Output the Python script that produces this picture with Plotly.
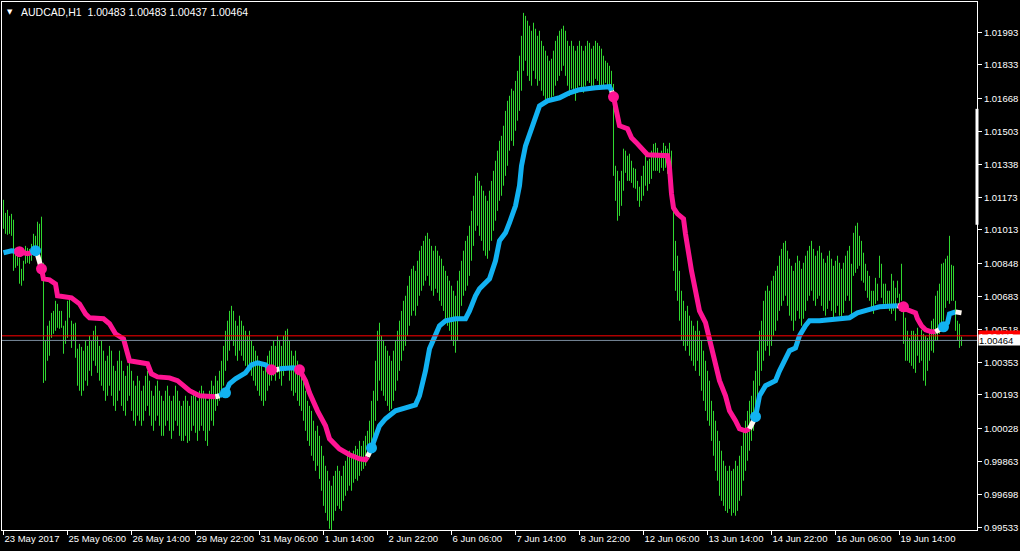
import plotly.graph_objects as go

# ---------------- data ----------------
SYMBOL = "AUDCAD,H1"
LAST_OHLC = [1.00483, 1.00483, 1.00437, 1.00464]
ASK = 1.00487
BID = 1.00464

X_TICK_IDX = [0, 32, 64, 96, 128, 160, 192, 224, 256, 288, 320, 352, 384, 416, 448]
X_TICK_TEXT = ["23 May 2017", "25 May 06:00", "26 May 14:00", "29 May 22:00", "31 May 06:00",
               "1 Jun 14:00", "2 Jun 22:00", "6 Jun 06:00", "7 Jun 14:00", "8 Jun 22:00",
               "12 Jun 06:00", "13 Jun 14:00", "14 Jun 22:00", "16 Jun 06:00", "19 Jun 14:00"]
Y_TICKS = [1.01993, 1.01833, 1.01668, 1.01503, 1.01338, 1.01173, 1.01013, 1.00848,
           1.00683, 1.00518, 1.00353, 1.00193, 1.00028, 0.99863, 0.99698, 0.99533]
Y_TICK_TEXT = ["1.01993", "1.01833", "1.01668", "1.01503", "1.01338", "1.01173", "1.01013", "1.00848",
               "1.00683", "1.00518", "1.00353", "1.00193", "1.00028", "0.99863", "0.99698", "0.99533"]

HIGH = [
    1.01163, 1.01098, 1.01113, 1.01083, 1.01093, 1.01064, 1.00924, 1.00924, 1.00875, 1.00820,
    1.00860, 1.00934, 1.00924, 1.00919, 1.00944, 1.00994, 1.00984, 1.01054, 1.01044, 1.01079,
    1.00850, 1.00462, 1.00537, 1.00562, 1.00601, 1.00611, 1.00661, 1.00646, 1.00611, 1.00611,
    1.00537, 1.00562, 1.00661, 1.00671, 1.00562, 1.00547, 1.00552, 1.00423, 1.00447, 1.00432,
    1.00413, 1.00462, 1.00437, 1.00487, 1.00462, 1.00512, 1.00537, 1.00487, 1.00437, 1.00462,
    1.00413, 1.00363, 1.00388, 1.00437, 1.00413, 1.00338, 1.00313, 1.00363, 1.00413, 1.00363,
    1.00313, 1.00288, 1.00338, 1.00363, 1.00313, 1.00264, 1.00239, 1.00288, 1.00264, 1.00214,
    1.00239, 1.00288, 1.00313, 1.00264, 1.00214, 1.00189, 1.00239, 1.00264, 1.00214, 1.00189,
    1.00164, 1.00214, 1.00239, 1.00189, 1.00164, 1.00189, 1.00239, 1.00214, 1.00164, 1.00139,
    1.00164, 1.00189, 1.00164, 1.00139, 1.00189, 1.00214, 1.00189, 1.00164, 1.00214, 1.00239,
    1.00214, 1.00189, 1.00164, 1.00214, 1.00264, 1.00239, 1.00288, 1.00264, 1.00313, 1.00363,
    1.00437, 1.00512, 1.00562, 1.00611, 1.00636, 1.00611, 1.00562, 1.00537, 1.00587, 1.00562,
    1.00537, 1.00512, 1.00487, 1.00512, 1.00462, 1.00437, 1.00413, 1.00388, 1.00363, 1.00338,
    1.00313, 1.00338, 1.00388, 1.00413, 1.00437, 1.00462, 1.00437, 1.00487, 1.00462, 1.00437,
    1.00487, 1.00512, 1.00522, 1.00462, 1.00413, 1.00388, 1.00413, 1.00363, 1.00338, 1.00313,
    1.00264, 1.00214, 1.00164, 1.00139, 1.00114, 1.00065, 1.00015, 1.00040, 0.99990, 0.99940,
    0.99891, 0.99841, 0.99816, 0.99767, 0.99742, 0.99791, 0.99816, 0.99841, 0.99816, 0.99791,
    0.99841, 0.99866, 0.99891, 0.99916, 0.99891, 0.99916, 0.99940, 0.99925, 0.99965, 0.99940,
    0.99965, 0.99990, 1.00015, 1.00065, 1.00164, 1.00214, 1.00363, 1.00512, 1.00552, 1.00487,
    1.00462, 1.00437, 1.00413, 1.00388, 1.00363, 1.00413, 1.00462, 1.00512, 1.00562, 1.00611,
    1.00661, 1.00686, 1.00736, 1.00785, 1.00820, 1.00835, 1.00810, 1.00860, 1.00910, 1.00934,
    1.00959, 1.00984, 1.00999, 1.00969, 1.00934, 1.00910, 1.00934, 1.00910, 1.00885, 1.00870,
    1.00835, 1.00810, 1.00785, 1.00761, 1.00736, 1.00711, 1.00686, 1.00761, 1.00810, 1.00860,
    1.00910, 1.00959, 1.00984, 1.01034, 1.01108, 1.01183, 1.01282, 1.01297, 1.01257, 1.01233,
    1.01208, 1.01183, 1.01158, 1.01208, 1.01257, 1.01307, 1.01357, 1.01407, 1.01456, 1.01481,
    1.01531, 1.01605, 1.01655, 1.01680, 1.01715, 1.01705, 1.01754, 1.01804, 1.01879, 1.01978,
    1.02092, 1.02077, 1.02053, 1.02028, 1.02003, 1.02043, 1.02013, 1.01978, 1.02003, 1.01953,
    1.01928, 1.01904, 1.01879, 1.01854, 1.01864, 1.01904, 1.01953, 1.01978, 1.02003, 1.02013,
    1.02028, 1.02003, 1.01953, 1.01928, 1.01953, 1.01928, 1.01904, 1.01928, 1.01953, 1.01928,
    1.01904, 1.01928, 1.01953, 1.01943, 1.01914, 1.01928, 1.01953, 1.01943, 1.01928, 1.01914,
    1.01879, 1.01854, 1.01844, 1.01829, 1.01804, 1.01739, 1.01332, 1.01307, 1.01257, 1.01307,
    1.01417, 1.01407, 1.01382, 1.01392, 1.01357, 1.01322, 1.01317, 1.01257, 1.01228, 1.01282,
    1.01332, 1.01382, 1.01357, 1.01367, 1.01407, 1.01441, 1.01446, 1.01421, 1.01372, 1.01407,
    1.01446, 1.01431, 1.01417, 1.01446, 1.01407, 1.01133, 1.00959, 1.00885, 1.00810, 1.00711,
    1.00661, 1.00611, 1.00636, 1.00587, 1.00562, 1.00537, 1.00512, 1.00562, 1.00512, 1.00462,
    1.00413, 1.00363, 1.00313, 1.00264, 1.00164, 1.00114, 1.00065, 1.00015, 0.99965, 0.99916,
    0.99866, 0.99841, 0.99816, 0.99841, 0.99816, 0.99826, 0.99866, 0.99841, 0.99891, 0.99940,
    1.00015, 1.00065, 1.00114, 1.00164, 1.00189, 1.00264, 1.00313, 1.00413, 1.00512, 1.00562,
    1.00661, 1.00711, 1.00736, 1.00711, 1.00761, 1.00785, 1.00810, 1.00835, 1.00885, 1.00919,
    1.00949, 1.00959, 1.00910, 1.00870, 1.00835, 1.00810, 1.00850, 1.00885, 1.00860, 1.00820,
    1.00850, 1.00885, 1.00910, 1.00934, 1.00959, 1.00919, 1.00885, 1.00910, 1.00934, 1.00900,
    1.00870, 1.00850, 1.00885, 1.00910, 1.00870, 1.00835, 1.00860, 1.00885, 1.00850, 1.00820,
    1.00850, 1.00885, 1.00910, 1.00934, 1.00845, 1.00999, 1.01034, 1.01049, 1.00984, 1.00959,
    1.00900, 1.00845, 1.00810, 1.00785, 1.00711, 1.00711, 1.00775, 1.00746, 1.00885, 1.00845,
    1.00746, 1.00746, 1.00711, 1.00711, 1.00795, 1.00761, 1.00726, 1.00761, 1.00696, 1.00845,
    1.00646, 1.00577, 1.00512, 1.00477, 1.00512, 1.00512, 1.00497, 1.00527, 1.00462, 1.00517,
    1.00497, 1.00487, 1.00477, 1.00512, 1.00562, 1.00572, 1.00686, 1.00711, 1.00746, 1.00845,
    1.00850, 1.00870, 1.00885, 1.00984, 1.00840, 1.00835, 1.00661, 1.00562, 1.00547, 1.00483,
]

LOW = [
    1.01019, 1.00994, 1.00989, 1.00994, 1.00984, 1.00810, 1.00825, 1.00835, 1.00746, 1.00736,
    1.00761, 1.00845, 1.00850, 1.00845, 1.00860, 1.00919, 1.00910, 1.00934, 1.00924, 1.00850,
    1.00253, 1.00264, 1.00363, 1.00388, 1.00477, 1.00497, 1.00512, 1.00527, 1.00522, 1.00527,
    1.00398, 1.00447, 1.00477, 1.00577, 1.00427, 1.00462, 1.00378, 1.00239, 1.00214, 1.00189,
    1.00214, 1.00264, 1.00239, 1.00313, 1.00288, 1.00363, 1.00338, 1.00303, 1.00264, 1.00239,
    1.00214, 1.00164, 1.00189, 1.00239, 1.00189, 1.00139, 1.00114, 1.00164, 1.00214, 1.00139,
    1.00114, 1.00090, 1.00164, 1.00189, 1.00114, 1.00065, 1.00040, 1.00090, 1.00065, 1.00040,
    1.00065, 1.00114, 1.00139, 1.00090, 1.00040, 1.00015, 1.00065, 1.00090, 1.00040, 0.99990,
    0.99990, 1.00040, 1.00065, 1.00015, 0.99975, 1.00015, 1.00065, 1.00040, 0.99990, 0.99965,
    0.99965, 0.99990, 0.99955, 0.99965, 1.00015, 1.00040, 1.00005, 0.99965, 1.00015, 1.00040,
    1.00015, 0.99965, 0.99940, 1.00015, 1.00065, 1.00040, 1.00114, 1.00139, 1.00164, 1.00189,
    1.00239, 1.00313, 1.00363, 1.00413, 1.00462, 1.00437, 1.00388, 1.00363, 1.00413, 1.00388,
    1.00363, 1.00338, 1.00313, 1.00338, 1.00288, 1.00264, 1.00239, 1.00214, 1.00189, 1.00164,
    1.00139, 1.00164, 1.00214, 1.00239, 1.00264, 1.00288, 1.00264, 1.00303, 1.00273, 1.00239,
    1.00288, 1.00313, 1.00338, 1.00264, 1.00214, 1.00189, 1.00204, 1.00164, 1.00139, 1.00114,
    1.00065, 1.00015, 0.99965, 0.99940, 0.99891, 0.99866, 0.99816, 0.99841, 0.99776, 0.99717,
    0.99642, 0.99607, 0.99568, 0.99528, 0.99518, 0.99568, 0.99617, 0.99642, 0.99627, 0.99617,
    0.99667, 0.99692, 0.99717, 0.99742, 0.99717, 0.99757, 0.99776, 0.99767, 0.99791, 0.99816,
    0.99826, 0.99841, 0.99866, 0.99891, 0.99916, 0.99965, 1.00065, 1.00164, 1.00264, 1.00214,
    1.00189, 1.00164, 1.00139, 1.00114, 1.00124, 1.00164, 1.00214, 1.00264, 1.00313, 1.00363,
    1.00413, 1.00437, 1.00487, 1.00537, 1.00587, 1.00611, 1.00587, 1.00636, 1.00686, 1.00711,
    1.00736, 1.00761, 1.00785, 1.00736, 1.00711, 1.00686, 1.00721, 1.00701, 1.00661, 1.00636,
    1.00611, 1.00562, 1.00537, 1.00512, 1.00462, 1.00437, 1.00403, 1.00462, 1.00562, 1.00636,
    1.00686, 1.00711, 1.00736, 1.00785, 1.00860, 1.00934, 1.01009, 1.01034, 1.00984, 1.00959,
    1.00910, 1.00885, 1.00870, 1.00910, 1.00959, 1.01009, 1.01059, 1.01108, 1.01158, 1.01183,
    1.01233, 1.01282, 1.01332, 1.01407, 1.01456, 1.01431, 1.01506, 1.01556, 1.01605, 1.01705,
    1.01804, 1.01854, 1.01779, 1.01754, 1.01730, 1.01804, 1.01764, 1.01730, 1.01754, 1.01705,
    1.01680, 1.01655, 1.01645, 1.01655, 1.01665, 1.01680, 1.01730, 1.01754, 1.01779, 1.01804,
    1.01829, 1.01779, 1.01730, 1.01680, 1.01715, 1.01705, 1.01655, 1.01695, 1.01730, 1.01705,
    1.01695, 1.01730, 1.01754, 1.01744, 1.01715, 1.01730, 1.01764, 1.01754, 1.01730, 1.01715,
    1.01730, 1.01744, 1.01730, 1.01705, 1.01680, 1.01282, 1.01158, 1.01059, 1.01083, 1.01133,
    1.01208, 1.01297, 1.01257, 1.01257, 1.01247, 1.01223, 1.01218, 1.01158, 1.01128, 1.01158,
    1.01183, 1.01233, 1.01208, 1.01242, 1.01267, 1.01307, 1.01307, 1.01307, 1.01297, 1.01322,
    1.01307, 1.01322, 1.01292, 1.01307, 1.01133, 1.00810, 1.00711, 1.00661, 1.00562, 1.00462,
    1.00437, 1.00413, 1.00437, 1.00388, 1.00363, 1.00338, 1.00313, 1.00363, 1.00288, 1.00214,
    1.00164, 1.00114, 1.00065, 1.00040, 0.99965, 0.99891, 0.99816, 0.99767, 0.99692, 0.99667,
    0.99642, 0.99617, 0.99607, 0.99627, 0.99593, 0.99607, 0.99593, 0.99617, 0.99667, 0.99692,
    0.99767, 0.99816, 0.99866, 0.99916, 0.99965, 1.00015, 1.00065, 1.00164, 1.00239, 1.00313,
    1.00363, 1.00413, 1.00437, 1.00388, 1.00437, 1.00487, 1.00512, 1.00562, 1.00611, 1.00636,
    1.00661, 1.00686, 1.00636, 1.00587, 1.00562, 1.00512, 1.00562, 1.00611, 1.00572, 1.00537,
    1.00572, 1.00611, 1.00661, 1.00686, 1.00711, 1.00661, 1.00636, 1.00671, 1.00686, 1.00636,
    1.00611, 1.00587, 1.00621, 1.00661, 1.00611, 1.00572, 1.00601, 1.00636, 1.00587, 1.00562,
    1.00601, 1.00661, 1.00686, 1.00661, 1.00577, 1.00785, 1.00800, 1.00820, 1.00835, 1.00761,
    1.00751, 1.00711, 1.00676, 1.00661, 1.00626, 1.00596, 1.00646, 1.00661, 1.00775, 1.00676,
    1.00646, 1.00646, 1.00626, 1.00611, 1.00596, 1.00611, 1.00562, 1.00676, 1.00611, 1.00661,
    1.00447, 1.00363, 1.00363, 1.00353, 1.00338, 1.00323, 1.00303, 1.00388, 1.00353, 1.00363,
    1.00264, 1.00239, 1.00313, 1.00363, 1.00413, 1.00403, 1.00462, 1.00462, 1.00497, 1.00512,
    1.00562, 1.00626, 1.00661, 1.00646, 1.00661, 1.00661, 1.00512, 1.00462, 1.00427, 1.00437,
]

# moving-average line: bar index, value, colour state (b = up, m = down, w = neutral)
MA_IDX = [0, 4, 8, 12, 14, 16, 17, 18, 19, 20, 23, 26, 27, 34, 38, 41, 43, 50, 53, 56,
          60, 62, 63, 72, 74, 77, 83, 87, 93, 98, 106, 108, 111, 113, 116, 121, 124, 127, 131, 134,
          136, 138, 145, 147, 148, 151, 153, 157, 161, 163, 168, 173, 178, 181, 182, 184, 186, 188, 191, 196,
          201, 206, 208, 211, 213, 216, 218, 221, 226, 231, 233, 236, 238, 243, 246, 248, 251, 253, 256, 258,
          259, 261, 263, 266, 268, 272, 278, 283, 288, 296, 303, 304, 305, 306, 307, 308, 312, 314, 317, 320,
          322, 332, 333, 334, 335, 337, 340, 341, 342, 343, 344, 346, 348, 351, 353, 356, 358, 361, 363, 366,
          368, 371, 373, 376, 378, 381, 386, 388, 391, 393, 396, 398, 401, 403, 408, 413, 418, 423, 427, 432,
          434, 438, 443, 447, 450, 452, 456, 457, 459, 461, 464, 466, 468, 470, 472, 473, 475, 476, 479]
MA_VAL = [1.00900, 1.00910, 1.00905, 1.00895, 1.00900, 1.00910, 1.00890, 1.00850, 1.00820, 1.00770,
          1.00765, 1.00745, 1.00686, 1.00676, 1.00646, 1.00596, 1.00577, 1.00572, 1.00547, 1.00497,
          1.00472, 1.00398, 1.00363, 1.00348, 1.00298, 1.00283, 1.00278, 1.00264, 1.00214, 1.00189,
          1.00184, 1.00189, 1.00204, 1.00249, 1.00273, 1.00303, 1.00343, 1.00353, 1.00343, 1.00318,
          1.00318, 1.00323, 1.00328, 1.00323, 1.00318, 1.00264, 1.00204, 1.00114, 1.00040, 0.99975,
          0.99925, 0.99896, 0.99876, 0.99871, 0.99886, 0.99930, 0.99990, 1.00040, 1.00075, 1.00114,
          1.00129, 1.00144, 1.00189, 1.00313, 1.00423, 1.00487, 1.00537, 1.00562, 1.00572, 1.00572,
          1.00611, 1.00686, 1.00721, 1.00770, 1.00860, 1.00959, 1.00999, 1.01049, 1.01133, 1.01233,
          1.01332, 1.01431, 1.01491, 1.01580, 1.01630, 1.01655, 1.01670, 1.01695, 1.01710, 1.01720,
          1.01725, 1.01705, 1.01675, 1.01620, 1.01556, 1.01531, 1.01516, 1.01471, 1.01441, 1.01407,
          1.01387, 1.01382, 1.01322, 1.01193, 1.01123, 1.01093, 1.01069, 1.00994, 1.00924, 1.00860,
          1.00810, 1.00711, 1.00611, 1.00552, 1.00462, 1.00338, 1.00264, 1.00189, 1.00114, 1.00065,
          1.00025, 1.00015, 1.00025, 1.00085, 1.00189, 1.00239, 1.00264, 1.00313, 1.00373, 1.00413,
          1.00427, 1.00487, 1.00537, 1.00562, 1.00562, 1.00567, 1.00577, 1.00577, 1.00601, 1.00611,
          1.00621, 1.00631, 1.00631, 1.00636, 1.00631, 1.00616, 1.00601, 1.00572, 1.00537, 1.00517,
          1.00507, 1.00507, 1.00517, 1.00532, 1.00552, 1.00596, 1.00606, 1.00606, 1.00601]
MA_COL = (["b", "b", "m", "m", "w", "b", "w", "w"] + ["m"] * 22 + ["w"] + ["b"] * 8 +
          ["m", "w", "b", "b", "w"] + ["m"] * 10 + ["w"] + ["b"] * 36 + ["w"] + ["m"] * 30 +
          ["w"] + ["b"] * 20 + ["w"] + ["m"] * 7 + ["w", "w", "b", "b", "b", "b", "w", "w"])

DOT_IDX = [8, 16, 19, 111, 134, 148, 184, 305, 376, 450, 470]
DOT_VAL = [1.00905, 1.00910, 1.00820, 1.00204, 1.00318, 1.00318, 0.99930, 1.01675, 1.00085, 1.00631, 1.00532]
DOT_COL = ["m", "b", "m", "b", "m", "m", "b", "m", "b", "m", "b"]

# ---------------- styles ----------------
BG = "#000000"
BAR_COLOR = "#30D830"
COLORS = {"b": "#12B2F2", "m": "#FF1493", "w": "#FFF8F0"}
FONT = "Liberation Sans, Arial, sans-serif"
FS = 9.5

fig = go.Figure()

# price bars (high-low lines)
bx, by = [], []
for i, (h, l) in enumerate(zip(HIGH, LOW)):
    bx += [i, i, None]
    by += [l, h, None]
fig.add_trace(go.Scatter(x=bx, y=by, mode="lines", line=dict(color=BAR_COLOR, width=1),
                         hoverinfo="skip", showlegend=False))

# moving average split into colour runs (segment colour = colour of its start point)
runs = []
cur = None
for k in range(len(MA_IDX) - 1):
    c = MA_COL[k]
    if cur is None or cur["c"] != c:
        cur = {"c": c, "x": [MA_IDX[k]], "y": [MA_VAL[k]]}
        runs.append(cur)
    cur["x"].append(MA_IDX[k + 1])
    cur["y"].append(MA_VAL[k + 1])
for r in runs:
    fig.add_trace(go.Scatter(x=r["x"], y=r["y"], mode="lines",
                             line=dict(color=COLORS[r["c"]], width=5),
                             hoverinfo="skip", showlegend=False))

fig.add_trace(go.Scatter(x=DOT_IDX, y=DOT_VAL, mode="markers",
                         marker=dict(size=11, color=[COLORS[c] for c in DOT_COL], line=dict(width=0)),
                         hoverinfo="skip", showlegend=False))

fig.update_layout(
    width=1020, height=551, autosize=False,
    paper_bgcolor=BG, plot_bgcolor=BG,
    margin=dict(l=2, r=43, t=2, b=21, autoexpand=False),
    showlegend=False,
    font=dict(family=FONT, size=FS, color="#FFFFFF"),
    xaxis=dict(range=[-0.75, 486.75], tickvals=X_TICK_IDX, ticktext=X_TICK_TEXT,
               ticks="outside", ticklen=4, tickcolor="#FFFFFF", ticklabelposition="outside right",
               tickangle=0, automargin=False,
               showline=True, linecolor="#FFFFFF", linewidth=1, mirror=True,
               showgrid=False, zeroline=False, fixedrange=True,
               tickfont=dict(family=FONT, size=FS, color="#FFFFFF")),
    yaxis=dict(range=[0.99522, 1.02146], tickvals=Y_TICKS, ticktext=Y_TICK_TEXT, side="right",
               ticks="outside", ticklen=4, tickcolor="#FFFFFF", automargin=False,
               showline=True, linecolor="#FFFFFF", linewidth=1, mirror=True,
               showgrid=False, zeroline=False, fixedrange=True,
               tickfont=dict(family=FONT, size=FS, color="#FFFFFF")),
    shapes=[
        dict(type="line", xref="paper", x0=0, x1=1, yref="y", y0=ASK, y1=ASK,
             line=dict(color="#FF0000", width=1), layer="above"),
        dict(type="line", xref="paper", x0=0, x1=1, yref="y", y0=BID, y1=BID,
             line=dict(color="#778899", width=1), layer="above"),
        dict(type="line", xref="paper", x0=1, x1=1, yref="y", y0=1.01615, y1=1.01039,
             line=dict(color="#FFFFFF", width=3), layer="above"),
    ],
    annotations=[
        dict(xref="paper", yref="paper", x=0, y=1, xanchor="left", yanchor="top",
             xshift=3, yshift=-4, text="▼", showarrow=False,
             font=dict(family="DejaVu Sans", size=7, color="#FFFFFF")),
        dict(xref="paper", yref="paper", x=0, y=1, xanchor="left", yanchor="top",
             xshift=17, yshift=-2, showarrow=False,
             text=SYMBOL + "\u00a0 " + " ".join(f"{v:.5f}" for v in LAST_OHLC),
             font=dict(family=FONT, size=10.5, color="#FFFFFF")),
        dict(xref="paper", yref="y", x=1, y=ASK, xanchor="left", yanchor="middle", xshift=1,
             text=f"{ASK:.5f}", showarrow=False, bgcolor="#FF0000", borderpad=0,
             width=42, height=10, align="left",
             font=dict(family=FONT, size=FS, color="#FFFFFF")),
        dict(xref="paper", yref="y", x=1, y=BID, xanchor="left", yanchor="middle", xshift=1,
             text=f"{BID:.5f}", showarrow=False, bgcolor="#FFFFFF", borderpad=0,
             width=42, height=10, align="left",
             font=dict(family=FONT, size=FS, color="#000000")),
    ],
)

fig.write_html("out.html", config={"displayModeBar": False},
               post_script="document.body.style.margin='0';document.body.style.overflow='hidden';")
